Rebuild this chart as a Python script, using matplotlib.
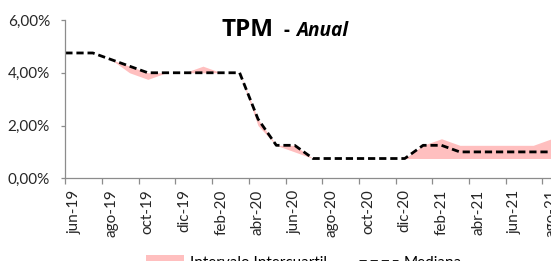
import numpy as np
import matplotlib
matplotlib.use("Agg")
import matplotlib.pyplot as plt
from matplotlib.patches import Patch
from matplotlib.lines import Line2D

# ---- data ----
months = ['jun-19', 'jul-19', 'ago-19', 'sep-19', 'oct-19', 'nov-19', 'dic-19',
          'ene-20', 'feb-20', 'mar-20', 'abr-20', 'may-20', 'jun-20', 'jul-20',
          'ago-20', 'sep-20', 'oct-20', 'nov-20', 'dic-20', 'ene-21', 'feb-21',
          'mar-21', 'abr-21', 'may-21', 'jun-21', 'jul-21', 'ago-21']
mediana = [4.75, 4.75, 4.50, 4.25, 4.00, 4.00, 4.00, 4.00, 4.00, 4.00, 2.25, 1.25,
           1.25, 0.75, 0.75, 0.75, 0.75, 0.75, 0.75, 1.25, 1.25, 1.00, 1.00, 1.00,
           1.00, 1.00, 1.00]
q1 = [4.75, 4.75, 4.50, 4.00, 3.75, 4.00, 4.00, 4.00, 4.00, 4.00, 2.00, 1.25,
      1.00, 0.75, 0.75, 0.75, 0.75, 0.75, 0.75, 0.75, 0.75, 0.75, 0.75, 0.75,
      0.75, 0.75, 0.75]
q3 = [4.75, 4.75, 4.50, 4.25, 4.00, 4.00, 4.00, 4.25, 4.00, 4.00, 2.25, 1.25,
      1.25, 0.75, 0.75, 0.75, 0.75, 0.75, 0.75, 1.25, 1.50, 1.25, 1.25, 1.25,
      1.25, 1.25, 1.50]
yticks = [0, 2, 4, 6]
ytick_labels = ['0,00%', '2,00%', '4,00%', '6,00%']

FONT = 'Lato'
TITLE_FONT = ['Open Sans', 'DejaVu Sans']
plt.rcParams['font.family'] = [FONT, 'DejaVu Sans']

W, H = 551, 261
fig = plt.figure(figsize=(W / 100, H / 100), dpi=100)

n = len(months)
xmax = 27
left_px, top_px, bot_px, month_px = 65.3, 20.0, 178.3, 18.35
ax = fig.add_axes([left_px / W, 1 - bot_px / H, xmax * month_px / W, (bot_px - top_px) / H])

x = np.arange(n) + 0.5
x[0] = 0.0

ax.fill_between(x, q1, q3, color='#FFBFBF', linewidth=0, zorder=1)
ax.plot(x, mediana, color='black', linewidth=2.0, linestyle=(0, (2.6, 1.4)), zorder=2)

ax.set_xlim(0, xmax)
ax.set_ylim(0, 6)

for s in ['top', 'right']:
    ax.spines[s].set_visible(False)
for s in ['left', 'bottom']:
    ax.spines[s].set_color('#8C8C8C')
    ax.spines[s].set_linewidth(0.9)

ax.set_yticks(yticks)
ax.set_yticklabels(ytick_labels)
ax.tick_params(axis='y', direction='out', length=3, width=0.9, color='#8C8C8C',
               pad=8, labelsize=11, labelcolor='#262626')

major = np.arange(0, xmax + 1, 2)
ax.set_xticks(major)
ax.set_xticklabels([''] * len(major))
ax.tick_params(axis='x', which='major', direction='out', length=4, width=0.9, color='#8C8C8C')
minor_idx = list(range(0, n, 2))
ax.set_xticks([i + 0.5 for i in minor_idx], minor=True)
ax.set_xticklabels([months[i] for i in minor_idx], minor=True, rotation=90)
ax.tick_params(axis='x', which='minor', length=0, pad=8, labelsize=11, labelcolor='#262626')

# title
fig.text(221 / W, 1 - 36 / H, 'TPM', fontsize=17.5, fontweight='bold', family=TITLE_FONT,
         va='baseline', ha='left')
fig.text(283 / W, 1 - 36.5 / H, '-', fontsize=13.5, fontweight='bold', family=TITLE_FONT,
         va='baseline', ha='left')
fig.text(296 / W, 1 - 36.5 / H, 'Anual', fontsize=13.8, fontweight='bold', style='italic',
         family=TITLE_FONT, va='baseline', ha='left')

handles = [Patch(facecolor='#FFBFBF', edgecolor='none'),
           Line2D([0], [0], color='black', linewidth=2.0, linestyle=(0, (2.6, 1.4)))]
fig.legend(handles, ['Intervalo Intercuartil', 'Mediana'], ncol=2, frameon=False,
           loc='upper left', bbox_to_anchor=(146 / W, 1 - 255 / H), fontsize=11,
           handlelength=2.5, handleheight=1.0, columnspacing=2.1, handletextpad=0.4,
           borderaxespad=0, borderpad=0)

fig.savefig('out.png', dpi=100)
